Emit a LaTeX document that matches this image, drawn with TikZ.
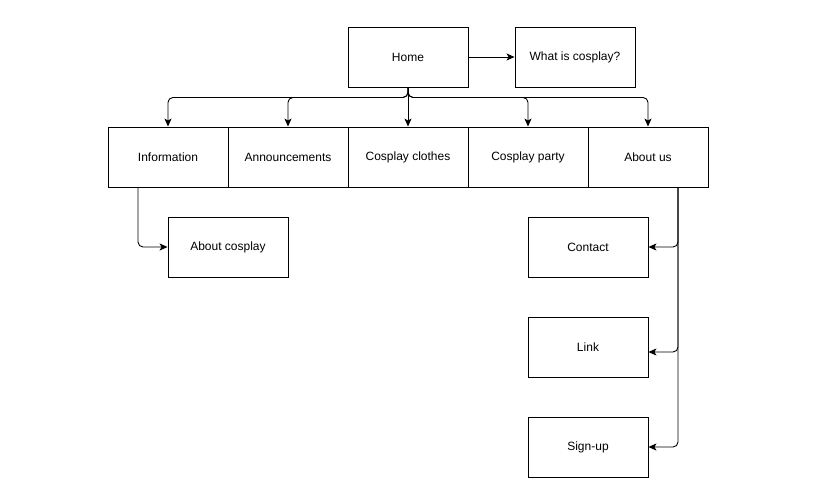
\documentclass[tikz,border=0pt]{standalone}
\usepackage{fontspec}
\setmainfont{Liberation Sans}
\usetikzlibrary{arrows.meta}
\begin{document}
\begin{tikzpicture}[x=1pt,y=-1pt,
  box/.style={draw, line width=0.9pt, minimum width=120pt, minimum height=60pt, inner sep=0pt, font=\fontsize{12}{14}\selectfont},
  conn/.style={line width=0.9pt, rounded corners=5pt, -{Stealth[length=8pt,width=7pt,inset=2pt]}}]
\useasboundingbox (0,0) rectangle (814,503);
\node[box] (home) at (408,57) {Home};
\node[box] (what) at (575,57) {What is cosplay?};
\node[box] (info) at (168,157) {Information};
\node[box] (ann) at (288,157) {Announcements};
\node[box] (clothes) at (408,157) {Cosplay clothes};
\node[box] (party) at (528,157) {Cosplay party};
\node[box] (aboutus) at (648,157) {About us};
\node[box] (aboutc) at (228,247) {About cosplay};
\node[box] (contact) at (588,247) {Contact};
\node[box] (link) at (588,347) {Link};
\node[box] (signup) at (588,447) {Sign-up};
\draw[conn] (home.east) -- (what.west);
\draw[conn] (home.south) -- ++(0,10) -| (info.north);
\draw[conn] (home.south) -- ++(0,10) -| (ann.north);
\draw[conn] (home.south) -- (clothes.north);
\draw[conn] (home.south) -- ++(0,10) -| (party.north);
\draw[conn] (home.south) -- ++(0,10) -| (aboutus.north);
\draw[conn] ([xshift=-30pt]info.south) |- (aboutc.west);
\draw[conn] ([xshift=30pt]aboutus.south) |- (contact.east);
\draw[conn] ([xshift=30pt]aboutus.south) |- ([yshift=-5pt]link.east);
\draw[conn] ([xshift=30pt]aboutus.south) |- (signup.east);
\end{tikzpicture}
\end{document}
